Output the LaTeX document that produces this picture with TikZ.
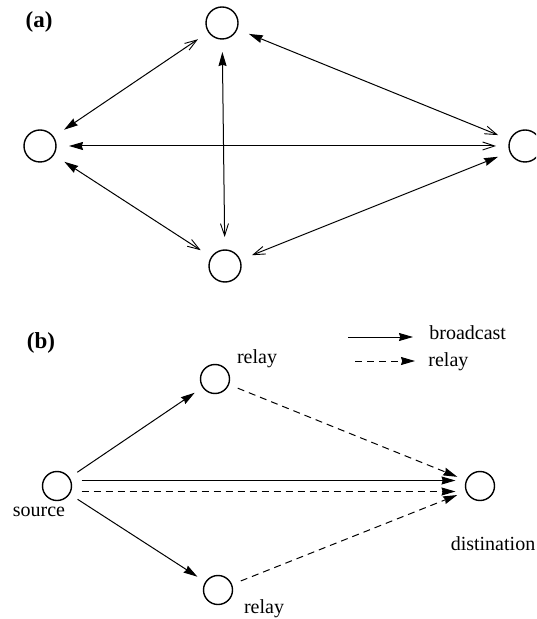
\documentclass[tikz,border=0pt]{standalone}
\usepackage{fontspec}
\setmainfont{Liberation Serif}
\usetikzlibrary{arrows.meta}
\begin{document}
\begin{tikzpicture}[x=0.5pt,y=-0.5pt,
  stn/.style={circle,draw,line width=0.7pt,inner sep=0pt,minimum size=16pt,outer sep=6.5pt},
  stb/.style={stn,minimum size=14.5pt,outer sep=5pt},
  link/.style={line width=0.5pt},
  fo/.style={link,arrows={Stealth[length=7pt,width=4pt,inset=0.6pt]-Straight Barb[length=6pt,width=4pt,line width=0.45pt]}},
  bc/.style={link,-{Stealth[length=7pt,width=4pt,inset=0.6pt]}},
  rl/.style={bc,dash pattern=on 3.5pt off 2.5pt},
  lbl/.style={font=\fontsize{10}{12}\selectfont,inner sep=0pt},
  tag/.style={font=\fontsize{11.5}{13}\selectfont\bfseries,inner sep=0pt}]
\useasboundingbox (0,0) rectangle (536,619);
\clip (0,0) rectangle (536,619);

% ---- (a) fully connected four stations
\node[tag] (ta) at (39,22) {(a)};
\node[stn] (t) at (222,23) {};
\node[stn] (l) at (40,146) {};
\node[stn] (r) at (525,146) {};
\node[stn] (bt) at (225,266) {};

\draw[fo] (l) -- (t);
\draw[fo] (t) -- (r);
\draw[fo] (l) -- (r);
\draw[fo] (t) -- (bt);
\draw[fo] (l) -- (bt);
\draw[fo] (r) -- (bt);

% ---- (b) source, two relays, destination
\node[tag] (tb) at (41,343) {(b)};
\node[stb] (s) at (57,486) {};
\node[stb] (ru) at (215,379) {};
\node[stb] (rd) at (218,590) {};
\node[stb] (d) at (480,486) {};

\node[lbl] (ls) at (39,512) {source};
\node[lbl] (lru) at (257,359) {relay};
\node[lbl] (lrd) at (264,609) {relay};
\node[lbl] (ld) at (493,544) {distination};

\draw[bc] (s) -- (ru);
\draw[bc] (s) -- (rd);
\draw[bc] ([yshift=2.75pt]s.east) -- ([yshift=2.75pt]d.west);
\draw[rl] ([yshift=-2.75pt]s.east) -- ([yshift=-2.75pt]d.west);
\draw[rl] (ru) -- (d);
\draw[rl] (rd) -- (d);

% legend
\coordinate (k1) at (348,337);
\coordinate (k2) at (413,337);
\coordinate (k3) at (355,361);
\coordinate (k4) at (415,361);
\draw[bc] (k1) -- (k2);
\draw[rl] (k3) -- (k4);
\node[lbl,anchor=west] (kb) at (429,333) {broadcast};
\node[lbl,anchor=west] (kr) at (428,362) {relay};
\end{tikzpicture}
\end{document}
